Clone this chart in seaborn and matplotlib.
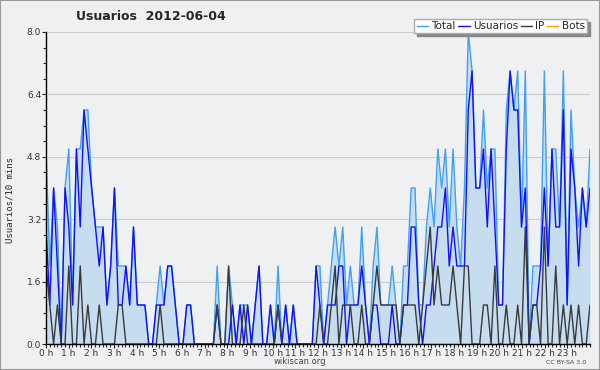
import numpy as np
import pandas as pd
import seaborn as sns
import matplotlib
matplotlib.use('Agg')
import matplotlib.pyplot as plt
from matplotlib.ticker import MultipleLocator, FormatStrFormatter
from matplotlib.patches import Rectangle

# one value per 10 minutes, 144 slots for the day (rows of 4 hours)
usuarios = [
    3, 1, 4, 2, 0, 4, 3, 1, 5, 3, 6, 5, 4, 3, 2, 3, 1, 2, 4, 1, 1, 2, 1, 3,
    1, 1, 1, 0, 0, 1, 1, 1, 2, 2, 1, 0, 0, 1, 1, 0, 0, 0, 0, 0, 0, 1, 0, 0,
    0, 1, 0, 1, 0, 1, 0, 1, 2, 0, 0, 1, 0, 1, 0, 1, 0, 1, 0, 0, 0, 0, 0, 2,
    1, 0, 1, 1, 1, 2, 2, 0, 1, 1, 1, 2, 1, 0, 1, 1, 0, 0, 0, 1, 0, 0, 1, 1,
    3, 3, 1, 0, 1, 1, 2, 3, 3, 4, 2, 3, 2, 2, 2, 6, 7, 4, 4, 5, 3, 5, 3, 1,
    1, 5, 7, 6, 6, 3, 4, 0, 1, 1, 2, 4, 2, 5, 3, 3, 6, 1, 5, 4, 2, 4, 3, 4,
]
ip = [
    2, 1, 0, 1, 0, 0, 2, 0, 0, 2, 0, 1, 0, 0, 1, 0, 0, 0, 0, 1, 1, 0, 0, 0,
    0, 0, 0, 0, 0, 0, 1, 0, 0, 0, 0, 0, 0, 0, 0, 0, 0, 0, 0, 0, 0, 1, 0, 0,
    2, 0, 0, 0, 1, 0, 0, 0, 0, 0, 0, 0, 0, 1, 0, 0, 0, 0, 0, 0, 0, 0, 0, 0,
    1, 0, 0, 1, 2, 0, 1, 1, 1, 0, 0, 1, 0, 0, 1, 2, 1, 1, 1, 1, 1, 0, 1, 1,
    1, 1, 0, 1, 2, 3, 1, 2, 1, 1, 1, 2, 1, 0, 2, 2, 0, 0, 0, 1, 1, 0, 2, 0,
    0, 1, 0, 0, 1, 0, 3, 0, 1, 1, 0, 3, 0, 0, 2, 0, 1, 0, 1, 0, 1, 0, 0, 1,
]
total = [
    5, 2, 4, 3, 0, 4, 5, 1, 5, 5, 6, 6, 4, 3, 3, 3, 1, 2, 4, 2, 2, 2, 1, 3,
    1, 1, 1, 0, 0, 1, 2, 1, 2, 2, 1, 0, 0, 1, 1, 0, 0, 0, 0, 0, 0, 2, 0, 0,
    2, 1, 0, 1, 1, 1, 0, 1, 2, 0, 0, 1, 0, 2, 0, 1, 0, 1, 0, 0, 0, 0, 0, 2,
    2, 0, 1, 2, 3, 2, 3, 1, 2, 1, 1, 3, 1, 0, 2, 3, 1, 1, 1, 2, 1, 0, 2, 2,
    4, 4, 1, 1, 3, 4, 3, 5, 4, 5, 3, 5, 3, 2, 4, 8, 7, 4, 4, 6, 4, 5, 5, 1,
    1, 6, 7, 6, 7, 3, 7, 0, 2, 2, 2, 7, 2, 5, 5, 3, 7, 1, 6, 4, 3, 4, 3, 5,
]
bots = [0] * 144

hour_labels = [f'{h} h' for h in range(24)]

sns.set_style('ticks')
plt.rcParams['font.family'] = ['DejaVu Sans']

bg = '#eff0f1'
df = pd.DataFrame({
    'slot': np.linspace(0, 24, len(total)),
    'Total': total,
    'Usuarios': usuarios,
    'IP': ip,
    'Bots': bots,
})

fig = plt.figure(figsize=(6, 3.7), dpi=100, facecolor=bg)
ax = fig.add_axes([46 / 600, 26 / 370, 544 / 600, 312 / 370])
ax.set_facecolor(bg)

ax.fill_between(df['slot'], df['Total'], color='#c6ddf0', lw=0, zorder=1)
sns.lineplot(data=df, x='slot', y='Bots', color='#ff9900', lw=1, ax=ax, zorder=1.5)
sns.lineplot(data=df, x='slot', y='Total', color='#3fa0f5', lw=1, ax=ax, zorder=2)
sns.lineplot(data=df, x='slot', y='Usuarios', color='#1010ff', lw=1, ax=ax, zorder=3)
sns.lineplot(data=df, x='slot', y='IP', color='#3a3a3a', lw=1, ax=ax, zorder=4)

ax.set_xlim(0, 24)
ax.set_ylim(0, 8)
ax.set_xticks(range(24))
ax.set_xticklabels(hour_labels)
ax.xaxis.set_minor_locator(MultipleLocator(1 / 6))
ax.yaxis.set_major_locator(MultipleLocator(1.6))
ax.yaxis.set_minor_locator(MultipleLocator(0.4))
ax.yaxis.set_major_formatter(FormatStrFormatter('%.1f'))
ax.tick_params(which='major', direction='out', length=3, width=0.8,
               labelsize=6.5, labelcolor='#333333', pad=0.5)
ax.tick_params(which='minor', direction='out', length=2, width=0.8)
ax.set_xlabel('')
ax.set_ylabel('')
ax.yaxis.grid(True, color='#cccccc', lw=0.8)
ax.set_axisbelow(True)
for s in ['top', 'right']:
    ax.spines[s].set_visible(False)
for s in ['left', 'bottom']:
    ax.spines[s].set_color('black')
    ax.spines[s].set_linewidth(1)
    ax.spines[s].set_zorder(5)

# legend in the order of the reference
handles = [plt.Line2D([], [], color=c, lw=1) for c in ['#3fa0f5', '#1010ff', '#3a3a3a', '#ff9900']]
fig.legend(handles, ['Total', 'Usuarios', 'IP', 'Bots'], loc='upper right',
           bbox_to_anchor=(592 / 600, 1 - 14 / 370), ncol=4, fontsize=7.5,
           frameon=True, fancybox=False, shadow={'color': '#888888', 'alpha': 1},
           edgecolor='#aaaaaa', handlelength=1.1, handletextpad=0.3,
           columnspacing=0.25, borderpad=0.2, framealpha=1)

fig.text(151 / 600, 1 - 17 / 370, 'Usuarios  2012-06-04', ha='center', va='center',
         fontsize=9, fontweight='bold')
fig.text(10 / 600, 1 - 200 / 370, 'Usuarios/10 mins', rotation=90, ha='center',
         va='center', fontsize=6.5, family='DejaVu Sans Mono')
fig.text(300 / 600, 1 - 362 / 370, 'wikiscan.org', ha='center', va='center',
         fontsize=6, color='#444444')
fig.text(566 / 600, 1 - 362 / 370, 'CC BY-SA 3.0', ha='center', va='center',
         fontsize=4.5, color='#444444')
fig.patches.append(Rectangle((0, 0), 1, 1, transform=fig.transFigure, fill=False,
                             edgecolor='#999999', lw=1.5))

fig.savefig('out.png', dpi=100, facecolor=bg)
